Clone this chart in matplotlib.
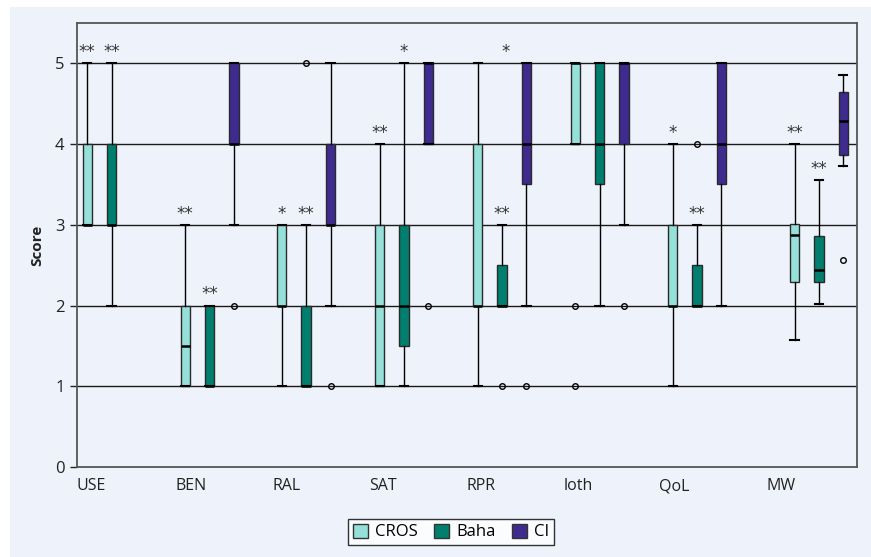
import matplotlib.pyplot as plt
from matplotlib.patches import Patch, Rectangle

plt.rcParams["font.family"] = ["Open Sans", "DejaVu Sans"]

categories = ["USE", "BEN", "RAL", "SAT", "RPR", "loth", "QoL", "MW"]
series = ["CROS", "Baha", "CI"]

# box statistics: (whislo, q1, med, q3, whishi)
# None = no box drawn for that category
cros_stats = [
    (3, 3, 3, 4, 5),
    (1, 1, 1.5, 2, 3),
    (1, 2, 2, 3, 3),
    (1, 1, 2, 3, 4),
    (1, 2, 2, 4, 5),
    (4, 4, 5, 5, 5),
    (1, 2, 2, 3, 4),
    (1.57, 2.29, 2.87, 3.01, 4.0),
]
baha_stats = [
    (2, 3, 3, 4, 5),
    (1, 1, 1, 2, 2),
    (1, 1, 1, 2, 3),
    (1, 1.5, 2, 3, 5),
    (2, 2, 2, 2.5, 3),
    (2, 3.5, 4, 5, 5),
    (2, 2, 2, 2.5, 3),
    (2.02, 2.29, 2.44, 2.86, 3.55),
]
ci_stats = [
    None,
    (3, 4, 4, 5, 5),
    (2, 3, 3, 4, 5),
    (4, 4, 5, 5, 5),
    (2, 3.5, 4, 5, 5),
    (3, 4, 5, 5, 5),
    (2, 3.5, 4, 5, 5),
    (3.73, 3.87, 4.29, 4.65, 4.85),
]
cros_fliers = [[], [], [], [], [], [2, 1], [], []]
baha_fliers = [[], [], [5], [], [1], [], [4], []]
ci_fliers = [[], [2], [1], [2], [1], [2], [], [2.56]]

# significance marks: (category, series slot, text, value it sits above)
sig_marks = [
    (0, 0, "**", 5), (0, 1, "**", 5),
    (1, 0, "**", 3), (1, 1, "**", 2),
    (2, 0, "*", 3), (2, 1, "**", 3),
    (3, 0, "**", 4), (3, 1, "*", 5),
    (4, 1.15, "*", 5), (4, 1, "**", 3),
    (6, 0, "*", 4), (6, 1, "**", 3),
    (7, 0, "**", 4.0), (7, 1, "**", 3.55),
]

COLORS = ["#95e0d8", "#007f6e", "#3f2a8f"]
BG = "#eef3fb"
INK = "#222222"

group_x = [0.355, 1.36, 2.35, 3.355, 4.36, 5.36, 6.36, 7.61]
slot_dx = [-0.25, 0.0, 0.25]
tick_x = [0.15, 1.17, 2.15, 3.14, 4.14, 5.14, 6.13, 7.22]

fig = plt.figure(figsize=(8.71, 5.57), dpi=100)
fig.patch.set_facecolor("white")
fig.patches.append(Rectangle((10 / 871, 0), 1, 1 - 7 / 557,
                             transform=fig.transFigure, facecolor=BG,
                             edgecolor="none", zorder=-10))
ax = fig.add_axes([77 / 871, 90 / 557, 780 / 871, 444 / 557])
ax.set_facecolor(BG)

for y in range(1, 6):
    ax.axhline(y, color="#1a1a1a", linewidth=1.0, zorder=1)

all_stats = [cros_stats, baha_stats, ci_stats]
all_fliers = [cros_fliers, baha_fliers, ci_fliers]
for s, (stats, fliers) in enumerate(zip(all_stats, all_fliers)):
    bx, pos = [], []
    for g, st, fl in zip(group_x, stats, fliers):
        if st is None:
            continue
        lo, q1, med, q3, hi = st
        bx.append(dict(whislo=lo, q1=q1, med=med, q3=q3, whishi=hi,
                       fliers=fl))
        pos.append(g + slot_dx[s])
    ax.bxp(bx, positions=pos, widths=0.095, capwidths=0.085,
           patch_artist=True, manage_ticks=False,
           boxprops=dict(facecolor=COLORS[s], edgecolor="#2a2a2a",
                         linewidth=1.0),
           medianprops=dict(color="black", linewidth=1.8),
           whiskerprops=dict(color="black", linewidth=1.0),
           capprops=dict(color="black", linewidth=1.5),
           flierprops=dict(marker="o", markersize=4, markerfacecolor="none",
                           markeredgecolor="black", markeredgewidth=1.0),
           zorder=3)

for cat, slot, txt, val in sig_marks:
    x = group_x[cat] + slot_dx[0] + 0.25 * slot
    ax.annotate(txt, (x, val), xytext=(0, 8), textcoords="offset points",
                ha="center", va="center", fontsize=12, color="#333333",
                family="DejaVu Sans")

ax.set_xlim(0, 8)
ax.set_ylim(0, 5.5)
ax.set_yticks(range(0, 6))
ax.set_xticks(tick_x)
ax.set_xticklabels(categories)
ax.tick_params(axis="x", length=0, pad=8, labelsize=11.5, colors=INK)
ax.tick_params(axis="y", length=5, width=1, pad=4, labelsize=12,
               colors=INK)
ax.set_ylabel("Score", fontsize=11, fontweight="bold", color=INK,
              labelpad=8)
for sp in ax.spines.values():
    sp.set_color("#555555")
    sp.set_linewidth(1.3)

handles = [Patch(facecolor=c, edgecolor="#333333", label=l)
           for c, l in zip(COLORS, series)]
leg = fig.legend(handles=handles, loc="center", ncol=3,
                 bbox_to_anchor=(451 / 871, 25 / 557), frameon=True,
                 fancybox=False, edgecolor="black", fontsize=12,
                 handlelength=0.9, handleheight=0.9, handletextpad=0.4,
                 columnspacing=1.0, borderpad=0.3)
leg.get_frame().set_linewidth(1.0)

fig.savefig("out.png", dpi=100, facecolor="white")
